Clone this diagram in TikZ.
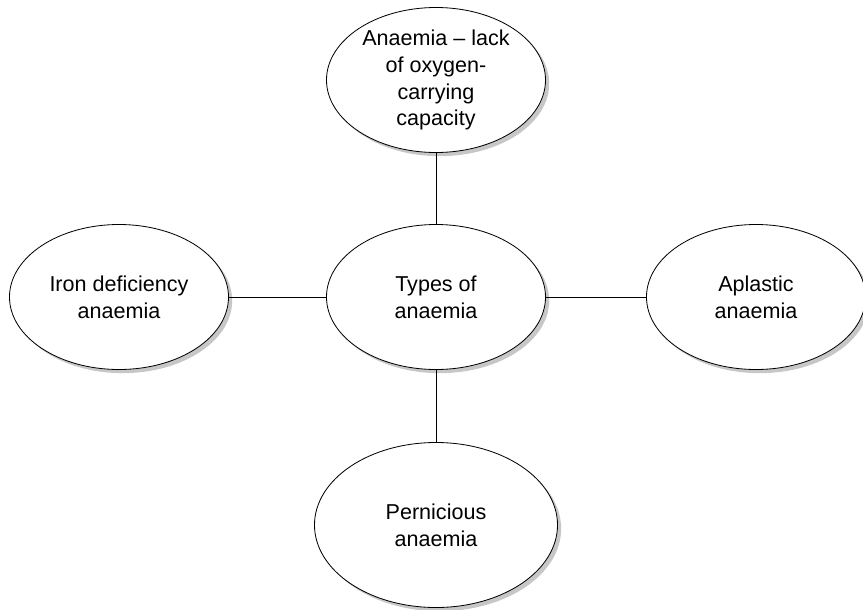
\documentclass[tikz,border=0pt]{standalone}
\usepackage{fontspec}
\setmainfont{Liberation Sans}
\usetikzlibrary{shapes.geometric,shadows}

\begin{document}
\begin{tikzpicture}[x=0.03cm,y=-0.03cm,
        bubble/.style={ellipse,draw,line width=0.7pt,fill=white,inner sep=0pt,
            minimum width=6.57cm,minimum height=4.35cm,align=center,
            font=\fontsize{18.4}{23}\selectfont,
            drop shadow={shadow xshift=1.1mm,shadow yshift=-1.1mm,fill=black!22,opacity=1}},
        link/.style={line width=0.7pt}]
        \useasboundingbox (0,0) rectangle (863,609);

        % middle and the four types round it
        \node[bubble] (types) at (436,297) {Types of\\anaemia};
        \node[bubble] (lack) at (436,80) {Anaemia -- lack\\of oxygen-\\carrying\\capacity};
        \node[bubble] (iron) at (119,297) {Iron deficiency\\anaemia};
        \node[bubble] (aplastic) at (756,297) {Aplastic\\anaemia};
        \node[bubble,minimum width=7.29cm,minimum height=4.95cm] (pernicious) at (436,525) {Pernicious\\anaemia};

        \draw[link] (lack) -- (types);
        \draw[link] (iron) -- (types);
        \draw[link] (types) -- (aplastic);
        \draw[link] (types) -- (pernicious);

    \end{tikzpicture}
\end{document}
